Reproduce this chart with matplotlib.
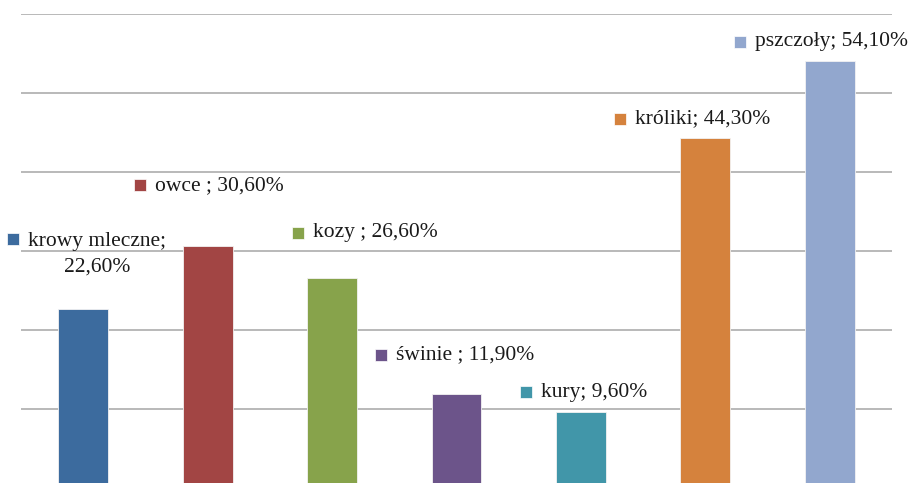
import matplotlib.pyplot as plt
import matplotlib.transforms as mtransforms

plt.switch_backend('agg')

categories = ['krowy mleczne', 'owce', 'kozy', 'świnie', 'kury', 'króliki', 'pszczoły']
values = [22.6, 30.6, 26.6, 11.9, 9.6, 44.3, 54.1]
labels = ['krowy mleczne;\n22,60%', 'owce ; 30,60%', 'kozy ; 26,60%', 'świnie ; 11,90%',
          'kury; 9,60%', 'króliki; 44,30%', 'pszczoły; 54,10%']
colors = ['#3C6B9E', '#A24544', '#87A34B', '#6C548A', '#4196A9', '#D5823D', '#92A7CE']

# label marker offsets from bar top (pixels)
marker_off = [(-70, 70), (-68, 61), (-34, 45), (-75, 39), (-55, 20), (-85, 19), (-90, 19)]
text_dy = [55, 61, 45, 39, 20, 19, 19]

fig = plt.figure(figsize=(9.09, 4.83), dpi=100)
ax = fig.add_axes([21 / 909, -5 / 483, 871 / 909, 474 / 483])

x = list(range(len(categories)))
ax.bar(x, values, width=0.4, color=colors, edgecolor='#f2f2f2', linewidth=0.6, zorder=3)

ax.set_xlim(-0.5, len(categories) - 0.5)
ax.set_ylim(0, 60)
ax.set_yticks(range(0, 61, 10))
ax.yaxis.grid(True, color='#a6a6a6', linewidth=1.1, zorder=0)
ax.set_xticks([])
ax.tick_params(left=False, labelleft=False)
for s in ax.spines.values():
    s.set_visible(False)

for i, v in enumerate(values):
    mx, my = marker_off[i]
    tr = mtransforms.offset_copy(ax.transData, fig=fig, x=mx, y=my, units='dots')
    ax.plot(i, v, marker='s', ms=8.5, color=colors[i], mec='white', mew=0.5,
            transform=tr, clip_on=False, zorder=5)
    ax.annotate(labels[i], xy=(i, v), xytext=(mx + 15, text_dy[i]), textcoords='offset pixels',
                ha='left', va='center', multialignment='center', fontsize=15.5,
                family='Liberation Serif', color='#1a1a1a', linespacing=1.5,
                annotation_clip=False, zorder=5)

fig.savefig('out.png', dpi=100)
